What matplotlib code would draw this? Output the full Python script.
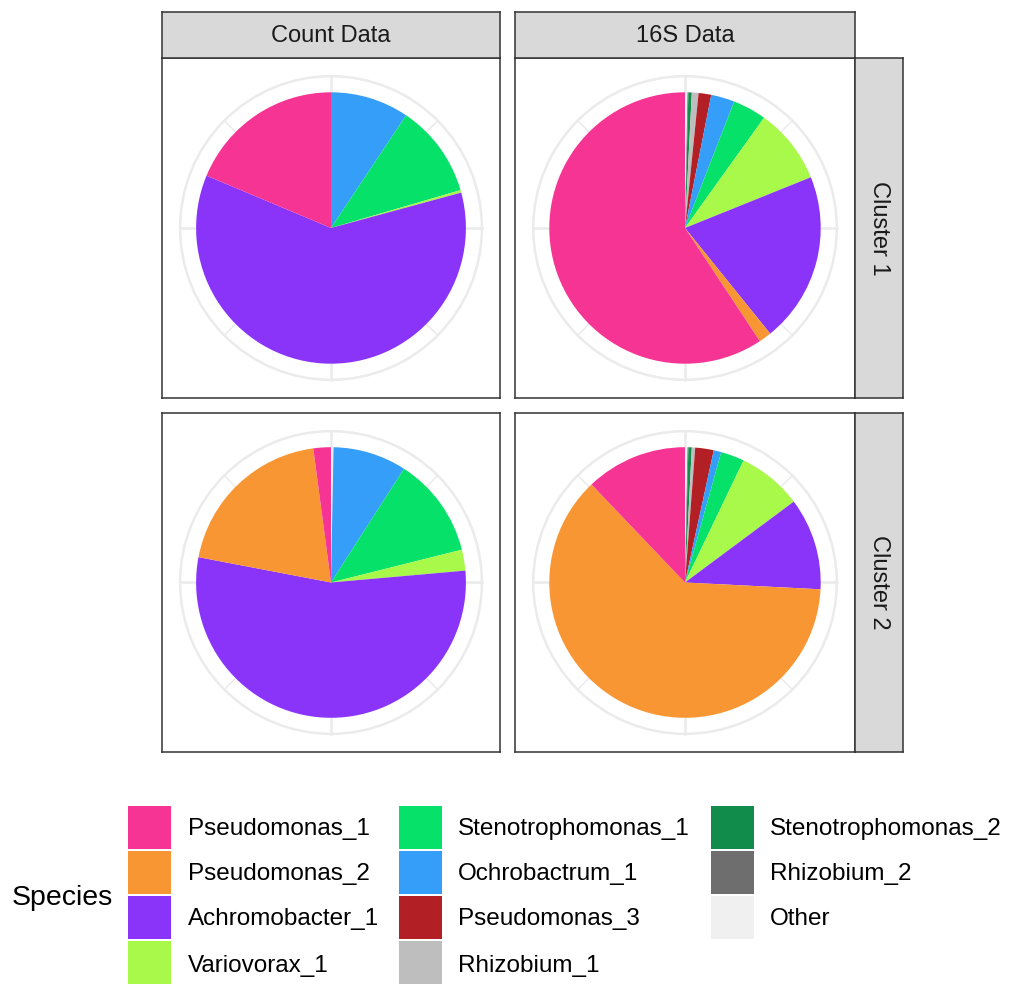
import matplotlib
matplotlib.use("Agg")
import matplotlib.pyplot as plt
from matplotlib.patches import Rectangle, Circle
import numpy as np

plt.rcParams['font.family'] = ['Liberation Sans', 'DejaVu Sans']

# Species (legend order) and fill colours
species = ["Pseudomonas_1", "Pseudomonas_2", "Achromobacter_1", "Variovorax_1",
           "Stenotrophomonas_1", "Ochrobactrum_1", "Pseudomonas_3", "Rhizobium_1",
           "Stenotrophomonas_2", "Rhizobium_2", "Other"]
colors = ["#F53494", "#F89633", "#8A33F9", "#A8F94A",
          "#06E16A", "#349EF9", "#B21F24", "#BEBEBE",
          "#128C4A", "#6E6E6E", "#F0F0F0"]

# Relative abundance per facet, in legend order
count_cluster1 = [0.187, 0.000, 0.605, 0.003, 0.111, 0.094, 0.000, 0.000, 0.000, 0.000, 0.000]
count_cluster2 = [0.021, 0.199, 0.544, 0.025, 0.120, 0.088, 0.000, 0.000, 0.000, 0.000, 0.003]
s16_cluster1 = [0.593, 0.015, 0.203, 0.090, 0.040, 0.028, 0.015, 0.008, 0.004, 0.001, 0.003]
s16_cluster2 = [0.121, 0.621, 0.110, 0.077, 0.028, 0.009, 0.022, 0.004, 0.004, 0.001, 0.003]

col_labels = ["Count Data", "16S Data"]
row_labels = ["Cluster 1", "Cluster 2"]
panels = [[count_cluster1, s16_cluster1], [count_cluster2, s16_cluster2]]

W, H = 1009, 985
fig = plt.figure(figsize=(W / 100, H / 100), dpi=100)


def box(x0, y0, x1, y1):
    """Pixel box (top-left origin) to figure fraction rect."""
    return [x0 / W, 1 - y1 / H, (x1 - x0) / W, (y1 - y0) / H]


col_x = [(162, 500), (515, 855)]
row_y = [(58, 398), (413, 752)]
strip_top = (12, 58)
strip_right = (855, 903)
border = "#333333"
strip_fill = "#D9D9D9"
grid_col = "#EBEBEB"

pie_r = 0.894
lim = 1.12


def style_frame(a):
    a.set_xticks([])
    a.set_yticks([])
    a.set_frame_on(True)
    for sp in a.spines.values():
        sp.set_visible(True)
        sp.set_color(border)
        sp.set_linewidth(1.1)


for r, (y0, y1) in enumerate(row_y):
    for c, (x0, x1) in enumerate(col_x):
        ax = fig.add_axes(box(x0, y0, x1, y1))
        # polar grid: outer ring plus theta lines
        ax.add_patch(Circle((0, 0), 1.0, fill=False, ec=grid_col, lw=1.8, zorder=0))
        for k in range(8):
            ang = np.pi / 2 - k * np.pi / 4
            lw = 1.8 if k % 2 == 0 else 1.1
            ax.plot([0, np.cos(ang)], [0, np.sin(ang)], color=grid_col, lw=lw, zorder=0)
        vals = panels[r][c]
        # stack clockwise from 12 o'clock in reverse legend order
        order = list(range(len(species)))[::-1]
        v = [vals[i] for i in order]
        cl = [colors[i] for i in order]
        ax.pie(v, colors=cl, startangle=90, counterclock=False, radius=pie_r,
               wedgeprops=dict(linewidth=0), normalize=True)
        ax.set_axis_on()
        ax.set_xlim(-lim, lim)
        ax.set_ylim(-lim, lim)
        ax.set_aspect("auto")
        style_frame(ax)

# column strips
for c, (x0, x1) in enumerate(col_x):
    sax = fig.add_axes(box(x0, strip_top[0], x1, strip_top[1]))
    sax.set_facecolor(strip_fill)
    style_frame(sax)
    sax.text(0.5, 0.47, col_labels[c], ha="center", va="center",
             fontsize=17, color="#1A1A1A", transform=sax.transAxes)

# row strips
for r, (y0, y1) in enumerate(row_y):
    sax = fig.add_axes(box(strip_right[0], y0, strip_right[1], y1))
    sax.set_facecolor(strip_fill)
    style_frame(sax)
    sax.text(0.5, 0.5, row_labels[r], ha="center", va="center", rotation=-90,
             fontsize=17, color="#1A1A1A", transform=sax.transAxes)

# legend
fig.text(12 / W, 1 - 898 / H, "Species", ha="left", va="center", fontsize=20.5, color="#000000")
key_x = [128, 399, 711]
label_x = [188, 458, 770]
key_top = [806, 851, 896, 941]
key_size = 43
label_mid = [829, 874, 919, 966]
for i, (name, col) in enumerate(zip(species, colors)):
    cc, rr = divmod(i, 4)
    kx, ky = key_x[cc], key_top[rr]
    fig.patches.append(Rectangle((kx / W, 1 - (ky + key_size) / H), key_size / W, key_size / H,
                                 transform=fig.transFigure, facecolor=col, edgecolor="none"))
    fig.text(label_x[cc] / W, 1 - label_mid[rr] / H, name, ha="left", va="center",
             fontsize=17.5, color="#000000")

fig.savefig("out.png", dpi=100, facecolor="white")
